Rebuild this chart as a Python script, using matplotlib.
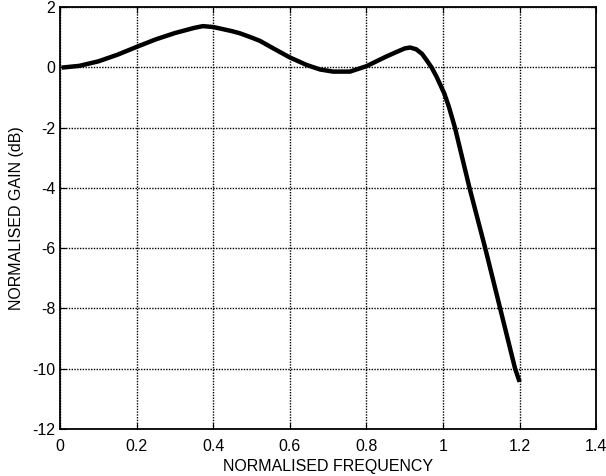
import matplotlib.pyplot as plt

# normalised frequency vs normalised gain (dB)
freq = [0.01, 0.05, 0.1, 0.15, 0.2, 0.25, 0.3, 0.35, 0.373, 0.4, 0.45, 0.47,
        0.5, 0.522, 0.557, 0.6, 0.644, 0.679, 0.713, 0.757, 0.8, 0.85, 0.88,
        0.9, 0.914, 0.93, 0.945, 0.957, 0.97, 0.983, 1.003, 1.015, 1.031,
        1.069, 1.11, 1.149, 1.188, 1.198]
gain = [0.0, 0.05, 0.2, 0.42, 0.68, 0.93, 1.14, 1.31, 1.37, 1.34, 1.2, 1.13,
        0.99, 0.88, 0.63, 0.33, 0.08, -0.07, -0.14, -0.14, 0.04, 0.35, 0.52,
        0.63, 0.66, 0.6, 0.45, 0.24, 0.0, -0.31, -0.86, -1.3, -2.0,
        -4.0, -6.0, -8.0, -10.0, -10.37]

xticks = [0, 0.2, 0.4, 0.6, 0.8, 1, 1.2, 1.4]
xticklabels = ['0', '0.2', '0.4', '0.6', '0.8', '1', '1.2', '1.4']
yticks = [-12, -10, -8, -6, -4, -2, 0, 2]

plt.rcParams['font.family'] = ['Liberation Sans', 'DejaVu Sans']
plt.rcParams['axes.unicode_minus'] = False

fig = plt.figure(figsize=(6.06, 4.76), dpi=100)
ax = fig.add_axes([0.099, 0.099, 0.885, 0.886])

ax.plot(freq, gain, color='black', linewidth=3.2, solid_joinstyle='round')

ax.set_xlim(0, 1.4)
ax.set_ylim(-12, 2)
ax.set_xticks(xticks)
ax.set_xticklabels(xticklabels)
ax.set_yticks(yticks)
ax.grid(True, color='black', linestyle=(0, (1, 1)), linewidth=1.0)
ax.tick_params(direction='in', top=True, right=True, length=4, labelsize=11.5,
               colors='black')
ax.tick_params(axis='x', pad=7)
for s in ax.spines.values():
    s.set_linewidth(1.3)

ax.set_xlabel('NORMALISED FREQUENCY', fontsize=11.5, labelpad=4)
ax.set_ylabel('NORMALISED GAIN (dB)', fontsize=11.5, labelpad=6)

fig.savefig('out.png', dpi=100)
